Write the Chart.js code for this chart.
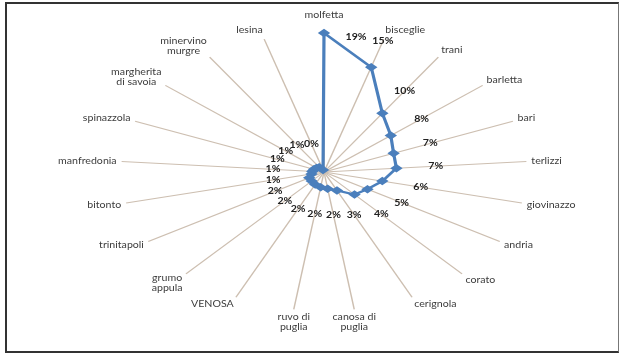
<!DOCTYPE html>
<html>
<head>
<meta charset="utf-8">
<script src="https://cdn.jsdelivr.net/npm/chart.js@4.4.1/dist/chart.umd.min.js"></script>
<style>
  html, body { margin: 0; padding: 0; background: #fff; }
  #wrap { position: relative; width: 622px; height: 355px; }
  #frame {
    position: absolute; left: 5px; top: 2px; width: 614px; height: 351px;
    border: 2px solid #333; border-right: 1px solid #777; box-sizing: border-box; pointer-events: none;
  }
  canvas { position: absolute; left: 0; top: 0; }
</style>
</head>
<body>
<div id="wrap">
  <canvas id="radar" width="622" height="355"></canvas>
  <div id="frame"></div>
</div>
<script>
// towns, clockwise from the top
const towns = [
  ["molfetta"], ["bisceglie"], ["trani"], ["barletta"], ["bari"], ["terlizzi"],
  ["giovinazzo"], ["andria"], ["corato"], ["cerignola"], ["canosa di", "puglia"],
  ["ruvo di", "puglia"], ["VENOSA"], ["grumo", "appula"], ["trinitapoli"], ["bitonto"],
  ["manfredonia"], ["spinazzola"], ["margherita", "di savoia"], ["minervino", "murgre"], ["lesina"]
];
const shares = [
  0.19, 0.15, 0.097, 0.08, 0.07, 0.068,
  0.056, 0.047, 0.042, 0.028, 0.023,
  0.021, 0.019, 0.017, 0.016, 0.012,
  0.011, 0.010, 0.009, 0.008, 0.003
];
const axisMax = 0.19;

// the plot is drawn as an ellipse: circle from Chart.js widened around its centre
const STRETCH = 1.46;
const TEXT_STRETCH = 1.18;
const BLUE = "#4b7fbc";

function pct(v) {
  return Math.round(v * 100) + "%";
}

function putText(ctx, text, x, y, align) {
  ctx.save();
  ctx.translate(x, y);
  ctx.scale(TEXT_STRETCH, 1);
  ctx.textAlign = align;
  ctx.fillText(text, 0, 0);
  ctx.restore();
}

const ellipsePlugin = {
  id: "ellipse",
  beforeDraw(chart) {
    const r = chart.scales.r;
    const ctx = chart.ctx;
    ctx.save();
    ctx.translate(r.xCenter, 0);
    ctx.scale(STRETCH, 1);
    ctx.translate(-r.xCenter, 0);
  },
  afterDatasetsDraw(chart) {
    chart.ctx.restore();
  },
  afterDraw(chart) {
    const r = chart.scales.r;
    const ctx = chart.ctx;
    const sx = (x) => r.xCenter + (x - r.xCenter) * STRETCH;
    const n = towns.length;
    const lh = 10;

    // category names at the end of each spoke
    ctx.save();
    ctx.font = "9px Lato";
    ctx.fillStyle = "#3c3c3c";
    ctx.textBaseline = "middle";
    towns.forEach((lines, i) => {
      const p = r.getPointPosition(i, r.drawingArea);
      const x = sx(p.x);
      const y = p.y;
      const a = (i * 2 * Math.PI) / n;
      const c = Math.cos(a);
      const s = Math.sin(a);
      const w = Math.max(...lines.map((t) => ctx.measureText(t).width)) * TEXT_STRETCH;
      const h = lines.length * lh;
      let cx;
      if (Math.abs(s) < 0.2) {
        cx = x;
      } else if (s > 0) {
        cx = x + 5 * s + w / 2;
      } else {
        cx = x + 5 * s - w / 2;
      }
      // the top label sits clear of the marker at the spoke tip
      const gap = 3 + 10 * Math.pow(Math.max(0, c), 40);
      const cy = y - c * (h / 2 + gap);
      lines.forEach((t, k) => {
        putText(ctx, t, cx, cy - h / 2 + lh / 2 + k * lh, "center");
      });
    });
    ctx.restore();

    // value labels, pushed outward along each spoke
    ctx.save();
    ctx.font = "bold 9px Lato";
    ctx.fillStyle = "#222";
    ctx.textBaseline = "middle";
    const pts = chart.getDatasetMeta(0).data;
    shares.forEach((v, i) => {
      const dist = r.getDistanceFromCenterForValue(v) + 27;
      let x, y;
      if (dist > r.drawingArea) {
        x = sx(pts[i].x) + 32;
        y = pts[i].y + 4;
      } else {
        const p = r.getPointPosition(i, dist);
        x = sx(p.x);
        y = p.y;
      }
      putText(ctx, pct(v), x, y, "center");
    });
    ctx.restore();
  }
};

new Chart(document.getElementById("radar"), {
  type: "radar",
  data: {
    labels: towns,
    datasets: [
      {
        data: shares,
        borderColor: BLUE,
        backgroundColor: "rgba(0,0,0,0)",
        borderWidth: 2.2,
        fill: false,
        tension: 0,
        pointStyle: "rectRot",
        pointRadius: 2.7,
        pointBackgroundColor: BLUE,
        pointBorderColor: BLUE,
        clip: false,
      },
    ],
  },
  options: {
    responsive: false,
    animation: false,
    layout: { padding: { left: 174, right: 148, top: 33, bottom: 44 } },
    plugins: { legend: { display: false }, tooltip: { enabled: false } },
    scales: {
      r: {
        min: 0,
        max: axisMax,
        ticks: { display: false },
        grid: { display: false },
        angleLines: { color: "#cdbfb1", lineWidth: 1 },
        pointLabels: { display: false },
      },
    },
  },
  plugins: [ellipsePlugin],
});
</script>
</body>
</html>
